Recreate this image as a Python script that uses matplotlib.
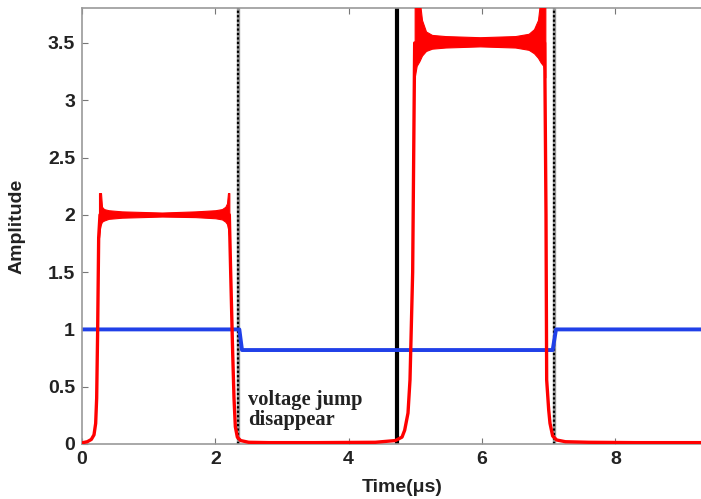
import matplotlib
matplotlib.use("Agg")
import matplotlib.pyplot as plt

# red trace: key points (time in us, amplitude)
red_t = [0.0, 0.08, 0.14, 0.18, 0.205, 0.22, 0.235, 0.25, 0.27, 2.21, 2.23, 2.26, 2.28,
         2.30, 2.33, 2.38, 2.5, 2.8, 3.5, 4.4, 4.7, 4.8, 4.84, 4.89, 4.92, 4.96, 4.99,
         6.94, 6.96, 6.97, 7.0, 7.02, 7.06, 7.12, 7.25, 7.6, 8.3, 9.3]
red_amp = [0.01, 0.02, 0.04, 0.08, 0.18, 0.4, 1.0, 1.8, 2.0, 2.0, 1.5, 0.8, 0.4,
           0.15, 0.06, 0.03, 0.015, 0.012, 0.012, 0.015, 0.03, 0.06, 0.12, 0.27, 0.56, 1.5, 3.5,
           3.5, 2.0, 0.56, 0.3, 0.18, 0.07, 0.035, 0.02, 0.015, 0.012, 0.012]

# ringing envelope on the two plateaus
ring1_t = [0.255, 0.27, 0.285, 0.30, 0.33, 0.40, 0.6, 1.2, 1.7, 2.0, 2.1, 2.15, 2.175, 2.19, 2.21]
ring1_hi = [2.19, 2.19, 2.19, 2.07, 2.05, 2.04, 2.03, 2.02, 2.03, 2.04, 2.05, 2.07, 2.10, 2.19, 2.19]
ring1_lo = [1.8, 1.88, 1.92, 1.94, 1.95, 1.965, 1.975, 1.985, 1.98, 1.97, 1.96, 1.94, 1.92, 1.88, 1.8]

ring2_t = [4.99, 5.02, 5.06, 5.1, 5.16, 5.25, 5.45, 5.97, 6.5, 6.7, 6.78, 6.84, 6.88, 6.92, 6.95]
ring2_hi = [3.9, 3.9, 3.9, 3.7, 3.6, 3.57, 3.56, 3.55, 3.56, 3.58, 3.62, 3.7, 3.9, 3.9, 3.9]
ring2_lo = [3.2, 3.3, 3.34, 3.39, 3.43, 3.45, 3.46, 3.47, 3.46, 3.44, 3.41, 3.37, 3.33, 3.3, 3.2]

# blue trace
blue_t = [0.0, 2.36, 2.40, 7.06, 7.11, 9.3]
blue_amp = [1.0, 1.0, 0.82, 0.82, 1.0, 1.0]

# vertical markers
dotted_x = [2.34, 7.08]
solid_x = 4.72

x_ticks = [0, 2, 4, 6, 8]
y_ticks = [0, 0.5, 1, 1.5, 2, 2.5, 3, 3.5]
y_tick_labels = ["0", "0.5", "1", "1.5", "2", "2.5", "3", "3.5"]

fig = plt.figure(figsize=(7.01, 4.99), dpi=100)
ax = fig.add_axes([82 / 701, 55 / 499, 619 / 701, 436 / 499])

sans = "Liberation Sans"
red = "#ff0000"
blue = "#2040e8"

for xv in dotted_x:
    ax.axvline(xv, color="#999999", lw=2.4, zorder=1)
    ax.axvline(xv, color="black", lw=1.6, ls=(0, (1, 1)), zorder=1.1)
ax.axvline(solid_x, color="black", lw=3.0, zorder=1)

ax.plot(blue_t, blue_amp, color=blue, lw=2.8, zorder=2)
ax.plot(red_t, red_amp, color=red, lw=2.4, zorder=3, solid_joinstyle="round")
ax.fill_between(ring1_t, ring1_lo, ring1_hi, color=red, lw=0.8, edgecolor=red, zorder=3)
ax.fill_between(ring2_t, ring2_lo, ring2_hi, color=red, lw=0.8, edgecolor=red, zorder=3)

ax.text(2.49, 0.30, "voltage jump\ndisappear", family="Liberation Serif",
        fontweight="bold", fontsize=14.8, ha="left", va="center", linespacing=1.0,
        color="#222222")

ax.set_xlim(0, 619 / (400 / 6))
ax.set_ylim(0, 3.805)
ax.set_xticks(x_ticks)
ax.set_yticks(y_ticks)
ax.set_xticklabels([str(v) for v in x_ticks], family=sans, fontweight="bold", fontsize=14)
ax.set_yticklabels(y_tick_labels, family=sans, fontweight="bold", fontsize=14)
ax.tick_params(direction="in", length=4, width=0.8, color="#777777", top=True,
               pad=5, labelcolor="#222222")

for side in ["left", "bottom", "top"]:
    ax.spines[side].set_color("#999999")
    ax.spines[side].set_linewidth(1.2)
ax.spines["right"].set_visible(False)

ax.set_xlabel("Time(\u03bcs)", family=sans, fontweight="bold", fontsize=14, color="#222222")
ax.xaxis.set_label_coords((402 - 82) / 619, -0.08)
ax.set_ylabel("Amplitude", family=sans, fontweight="bold", fontsize=14, color="#222222")
ax.yaxis.set_label_coords(-(82 - 26) / 619, 0.5)

fig.savefig("out.png", dpi=100, facecolor="white")
